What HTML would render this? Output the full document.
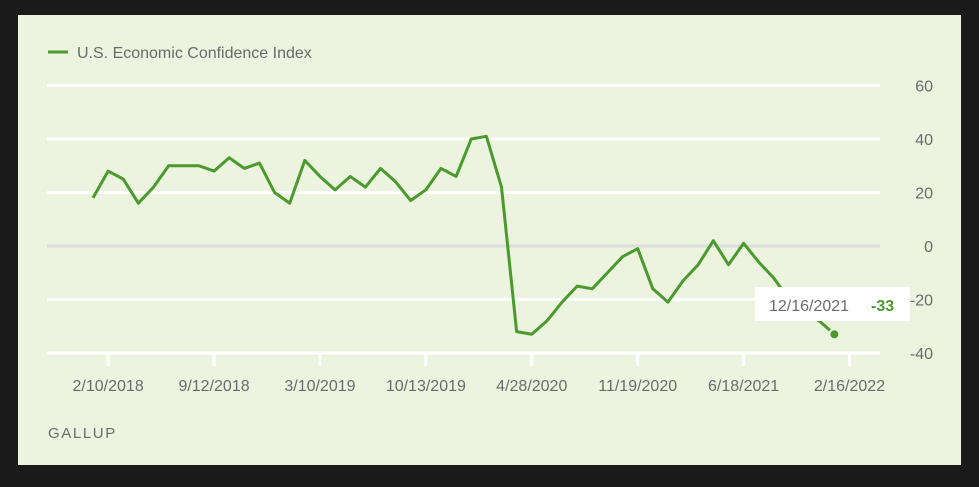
<!DOCTYPE html>
<html><head><meta charset="utf-8"><style>
body{margin:0;background:#1a1a1a;width:979px;height:487px;overflow:hidden;font-family:"Liberation Sans",sans-serif}
svg{position:absolute;left:0;top:0}
</style></head><body>
<svg width="979" height="487">
<rect x="18" y="15" width="943" height="450" fill="#ecf3df"/>
<g id="legend">
<line x1="48" y1="52" x2="68" y2="52" stroke="#4a9a2e" stroke-width="3"/>
<text x="77" y="58" font-size="16" fill="#6b6b6b">U.S. Economic Confidence Index</text>
</g>
<g id="grid"></g><g id="xaxis"></g><g id="yaxis"></g><g id="series"></g>
<text x="48" y="438" font-size="15" fill="#6b6b6b" letter-spacing="1.6">GALLUP</text>
<g id="tooltip">
<rect x="755" y="287" width="155" height="34" fill="#fff"/>
<text x="769" y="311" font-size="16" fill="#6b6b6b">12/16/2021</text>
<text x="871" y="311" font-size="16" font-weight="bold" fill="#4a9a2e">-33</text>
</g>
</svg>
<script>
const values=[18,28,25,16,22,30,30,30,28,33,29,31,20,16,32,26,21,26,22,29,24,17,21,29,26,40,41,22,-32,-33,-28,-21,-15,-16,-10,-4,-1,-16,-21,-13,-7,2,-7,1,-6,-12,-20,-25,-28,-33];
const yTicks=[60,40,20,0,-20,-40];
const xTickLabels=["2/10/2018","9/12/2018","3/10/2019","10/13/2019","4/28/2020","11/19/2020","6/18/2021","2/16/2022"];
const xTickIndex=[1,8,15,22,29,36,43,50];
const NS="http://www.w3.org/2000/svg";
const X=i=>93+i*15.13, Y=v=>246-v*2.675;
function mk(t,a,p){const e=document.createElementNS(NS,t);for(const k in a)e.setAttribute(k,a[k]);document.getElementById(p).appendChild(e);return e;}
yTicks.forEach(v=>{
 const l=mk('line',{x1:47,x2:880,y1:Y(v),y2:Y(v),stroke:v===0?'#dcdcdc':'#fff','stroke-width':3},'grid');
 
 
 const t=mk('text',{x:933,y:Y(v)+6,'text-anchor':'end','font-size':16,fill:'#6b6b6b'},'yaxis');
 t.textContent=v;
 
 
});
xTickLabels.forEach((s,k)=>{
 const x=X(xTickIndex[k]);
 const l=mk('line',{x1:x,x2:x,y1:353,y2:366,stroke:'#fff','stroke-width':3},'xaxis');
 
 
 const t=mk('text',{x:x,y:391,'text-anchor':'middle','font-size':16,fill:'#6b6b6b'},'xaxis');
 t.textContent=s;
 
 
});
const p=mk('polyline',{points:values.map((v,i)=>X(i)+','+Y(v)).join(' '),fill:'none',stroke:'#4a9a2e','stroke-width':3,'stroke-linejoin':'round'},'series');


const last=values.length-1;
const c=mk('circle',{cx:X(last),cy:Y(values[last]),r:5,fill:'#4a9a2e',stroke:'#ecf3df','stroke-width':2},'series');


</script>
</body></html>
